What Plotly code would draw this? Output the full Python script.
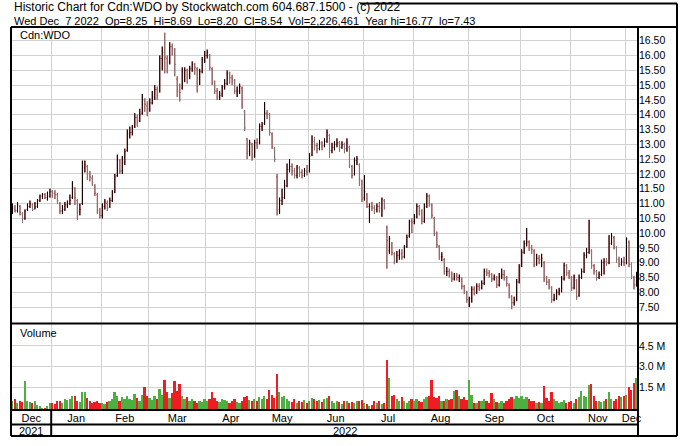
import pandas as pd
import plotly.graph_objects as go
from plotly.subplots import make_subplots

# ---------------- data ----------------
symbol = "Cdn:WDO"
holidays = ["2021-12-27", "2021-12-28", "2022-01-03", "2022-02-21", "2022-04-15",
            "2022-05-23", "2022-07-01", "2022-08-01", "2022-09-05", "2022-10-10"]
dates = [d for d in pd.bdate_range("2021-12-08", "2022-12-07")
         if d.strftime("%Y-%m-%d") not in holidays]

opens = [
    # Dec 2021
    10.95, 10.8, 10.75, 10.9, 10.65, 10.5, 10.8, 10.9, 10.95, 10.85, 10.9, 11.1, 11.25, 11.3, 11.2, 11.25,
    # Jan
    11.4, 11.35, 11.3, 11.0, 10.75, 10.8, 10.95, 11.0, 11.2, 11.5, 11.1, 10.7, 11.0, 12.2, 12.25, 12.0, 11.85, 11.6, 11.3, 10.7,
    # Feb
    10.6, 10.9, 11.0, 10.9, 11.1, 11.4, 11.95, 12.45, 12.1, 12.4, 12.8, 13.35, 13.4, 13.6, 13.9, 13.8, 14.05, 14.5, 14.3,
    # Mar
    14.2, 14.4, 14.6, 14.85, 14.8, 15.9, 16.1, 15.9, 15.8, 16.3, 16.2, 15.2, 14.8, 14.9, 15.4, 15.5, 15.35, 15.55, 15.7, 15.55, 15.2, 15.45, 15.85,
    # Apr
    16.0, 16.0, 15.55, 15.1, 14.8, 14.6, 14.7, 14.95, 15.05, 15.4, 15.25, 15.15, 14.8, 14.8, 14.9, 14.1, 13.2, 12.75, 13.0, 12.6,
    # May
    13.05, 13.05, 13.6, 13.7, 14.05, 14.0, 13.35, 12.85, 11.9, 10.8, 11.1, 11.2, 11.6, 12.15, 12.25, 12.1, 11.95, 12.2, 12.05, 11.95, 12.1,
    # Jun
    12.1, 12.65, 13.1, 12.95, 12.85, 13.05, 12.95, 13.1, 13.3, 12.8, 12.9, 13.0, 13.05, 12.9, 13.0, 12.85, 12.9, 12.25, 12.0, 12.45, 12.3, 11.75,
    # Jul
    11.2, 11.3, 10.9, 10.9, 10.85, 10.8, 10.9, 10.6, 11.1, 10.2, 9.4, 9.6, 9.3, 9.05, 9.25, 9.3, 9.2, 9.55, 9.9, 10.4,
    # Aug
    10.4, 10.55, 10.9, 10.75, 10.4, 10.9, 11.25, 10.95, 10.5, 10.0, 9.55, 9.2, 9.1, 8.7, 8.7, 8.6, 8.45, 8.55, 8.5, 8.45, 8.2, 8.0,
    # Sep
    7.6, 7.8, 8.1, 8.0, 8.2, 8.15, 8.3, 8.7, 8.65, 8.6, 8.45, 8.5, 8.25, 8.55, 8.6, 8.5, 8.25, 7.85, 7.65, 7.75, 8.35,
    # Oct
    8.9, 9.35, 9.65, 9.7, 9.5, 9.4, 8.95, 9.15, 9.1, 9.0, 8.45, 8.35, 8.15, 7.75, 7.8, 8.0, 8.05, 8.45, 8.9, 8.65,
    # Nov
    8.5, 8.15, 8.4, 7.9, 8.5, 8.7, 9.25, 9.35, 9.4, 8.9, 8.7, 8.5, 8.6, 9.0, 9.05, 9.0, 9.65, 9.85, 9.5, 9.1, 8.95, 9.05,
    # Dec
    9.0, 9.7, 8.95, 8.5, 8.25,
]
highs = [
    11.0, 10.95, 11.05, 10.95, 10.7, 10.8, 11.0, 11.1, 11.0, 11.05, 11.15, 11.3, 11.35, 11.35, 11.4, 11.5,
    11.45, 11.45, 11.35, 11.05, 10.95, 11.05, 11.1, 11.3, 11.75, 11.55, 11.15, 11.0, 12.45, 12.45, 12.3, 12.1, 11.95, 11.65, 11.35, 10.85,
    11.0, 11.15, 11.1, 11.2, 11.45, 12.0, 12.65, 12.5, 12.6, 12.85, 13.5, 13.6, 13.65, 14.05, 14.0, 14.2, 14.7, 14.55, 14.45,
    14.55, 14.8, 15.0, 14.95, 16.0, 16.3, 16.77, 16.0, 16.45, 16.4, 16.25, 15.3, 15.05, 15.6, 15.6, 15.55, 15.65, 15.8, 15.75, 15.6, 15.55, 15.95, 16.15,
    16.2, 16.05, 15.6, 15.15, 14.9, 14.8, 15.0, 15.2, 15.5, 15.45, 15.35, 15.2, 14.95, 15.05, 14.95, 14.15, 13.2, 13.15, 13.05, 13.15,
    13.2, 13.7, 13.75, 14.43, 14.15, 14.05, 13.4, 12.9, 12.0, 11.2, 11.5, 11.8, 12.35, 12.5, 12.35, 12.2, 12.3, 12.25, 12.15, 12.2, 12.3,
    12.7, 13.3, 13.25, 13.05, 13.15, 13.1, 13.2, 13.5, 13.35, 13.05, 13.1, 13.2, 13.1, 13.1, 13.05, 13.2, 12.95, 12.3, 12.55, 12.6, 12.35, 11.8,
    11.96, 11.35, 11.0, 11.05, 10.95, 11.0, 11.05, 11.2, 11.15, 10.25, 9.9, 9.7, 9.35, 9.4, 9.45, 9.45, 9.6, 9.95, 10.45, 10.5,
    10.65, 11.0, 10.95, 10.8, 11.0, 11.35, 11.3, 11.0, 10.55, 10.05, 9.6, 9.35, 9.15, 8.85, 8.8, 8.7, 8.65, 8.65, 8.6, 8.5, 8.25, 8.05,
    7.85, 8.2, 8.2, 8.3, 8.3, 8.4, 8.8, 8.8, 8.75, 8.65, 8.6, 8.55, 8.65, 8.8, 8.75, 8.55, 8.3, 7.9, 7.85, 8.45, 8.95,
    9.45, 9.75, 10.17, 9.75, 9.6, 9.45, 9.3, 9.25, 9.3, 9.05, 8.55, 8.45, 8.2, 7.95, 8.1, 8.15, 8.55, 9.0, 8.95, 8.75,
    8.55, 8.6, 8.45, 8.6, 8.8, 9.35, 9.5, 10.45, 9.45, 8.95, 8.75, 8.7, 9.1, 9.15, 9.15, 9.93, 10.0, 9.9, 9.55, 9.2, 9.15, 9.2,
    9.85, 9.75, 9.0, 8.55, 8.69,
]
lows = [
    10.65, 10.7, 10.7, 10.6, 10.35, 10.45, 10.75, 10.85, 10.75, 10.8, 10.85, 11.05, 11.15, 11.15, 11.1, 11.2,
    11.2, 11.15, 11.0, 10.65, 10.65, 10.75, 10.85, 10.95, 11.15, 10.95, 10.45, 10.6, 10.95, 12.05, 11.8, 11.75, 11.6, 11.25, 10.65, 10.5,
    10.5, 10.8, 10.75, 10.85, 11.05, 11.35, 11.9, 12.0, 12.0, 12.3, 12.75, 13.2, 13.3, 13.55, 13.6, 13.75, 14.0, 14.1, 13.95,
    14.1, 14.35, 14.5, 14.5, 14.75, 15.5, 15.4, 15.4, 15.7, 16.0, 15.3, 14.6, 14.45, 14.85, 15.1, 15.05, 15.2, 15.45, 15.35, 14.75, 15.0, 15.4, 15.75,
    15.9, 15.5, 15.0, 14.7, 14.5, 14.5, 14.6, 14.85, 15.0, 15.05, 15.0, 14.7, 14.6, 14.7, 14.2, 13.45, 12.5, 12.6, 12.45, 12.55,
    12.85, 13.0, 13.45, 13.65, 13.85, 13.3, 12.85, 12.4, 10.6, 10.65, 10.95, 11.15, 11.55, 12.05, 11.95, 11.85, 11.85, 11.9, 11.85, 11.9, 11.95,
    12.05, 12.6, 12.8, 12.7, 12.8, 12.8, 12.9, 13.05, 12.55, 12.7, 12.8, 12.9, 12.75, 12.85, 12.7, 12.75, 12.2, 11.85, 11.95, 12.3, 11.6, 11.05,
    11.1, 10.85, 10.35, 10.75, 10.65, 10.7, 10.7, 10.55, 10.8, 8.8, 9.3, 9.25, 8.95, 9.0, 9.1, 9.1, 9.15, 9.5, 9.85, 10.0,
    10.3, 10.5, 10.6, 10.3, 10.35, 10.85, 10.9, 10.5, 9.9, 9.5, 9.1, 9.05, 8.6, 8.55, 8.5, 8.35, 8.4, 8.4, 8.35, 8.1, 7.95, 7.65,
    7.5, 7.65, 7.9, 7.95, 8.05, 8.1, 8.25, 8.55, 8.5, 8.35, 8.4, 8.15, 8.2, 8.45, 8.4, 8.2, 7.8, 7.43, 7.55, 7.7, 8.3,
    8.85, 9.3, 9.55, 9.4, 9.3, 8.85, 8.9, 8.95, 8.85, 8.35, 8.25, 8.1, 7.65, 7.7, 7.75, 7.9, 8.0, 8.4, 8.55, 8.45,
    8.05, 8.1, 7.75, 7.85, 8.45, 8.65, 9.15, 9.3, 8.8, 8.6, 8.4, 8.45, 8.55, 8.6, 8.9, 8.95, 9.6, 9.45, 9.0, 8.85, 8.9, 8.9,
    8.95, 8.85, 8.45, 8.1, 8.20,
]
closes = [
    10.85, 10.75, 10.95, 10.7, 10.5, 10.75, 10.9, 11.0, 10.8, 10.9, 11.1, 11.25, 11.3, 11.2, 11.25, 11.4,
    11.35, 11.3, 11.1, 10.75, 10.8, 10.95, 11.0, 11.1, 11.55, 11.2, 10.75, 10.8, 12.2, 12.3, 12.0, 11.9, 11.7, 11.35, 10.75, 10.6,
    10.9, 11.05, 10.85, 11.1, 11.35, 11.9, 12.5, 12.1, 12.4, 12.75, 13.35, 13.4, 13.55, 13.9, 13.8, 14.0, 14.5, 14.35, 14.2,
    14.4, 14.6, 14.85, 14.65, 15.9, 16.1, 15.95, 15.75, 16.3, 16.25, 15.7, 14.8, 14.75, 15.45, 15.5, 15.3, 15.55, 15.7, 15.6, 15.25, 15.45, 15.85, 16.0,
    16.1, 15.6, 15.1, 14.8, 14.6, 14.65, 14.95, 15.05, 15.4, 15.25, 15.2, 14.8, 14.8, 14.95, 14.35, 13.55, 12.7, 13.05, 12.55, 13.05,
    13.0, 13.6, 13.65, 14.05, 14.0, 13.4, 12.9, 12.5, 10.75, 11.1, 11.2, 11.6, 12.15, 12.25, 12.1, 11.95, 12.2, 12.05, 11.95, 12.1, 12.05,
    12.6, 13.15, 12.95, 12.85, 13.05, 12.95, 13.1, 13.4, 12.8, 12.9, 13.0, 13.05, 12.9, 13.0, 12.85, 13.05, 12.3, 11.95, 12.45, 12.5, 11.8, 11.15,
    11.4, 10.9, 10.9, 10.85, 10.8, 10.9, 10.85, 11.15, 10.85, 9.75, 9.8, 9.35, 9.05, 9.25, 9.3, 9.2, 9.55, 9.85, 10.4, 10.35,
    10.55, 10.9, 10.75, 10.4, 10.9, 11.25, 10.95, 10.6, 10.0, 9.6, 9.2, 9.2, 8.7, 8.7, 8.65, 8.45, 8.55, 8.5, 8.5, 8.2, 8.05, 7.75,
    7.8, 8.1, 8.0, 8.2, 8.15, 8.3, 8.7, 8.65, 8.6, 8.45, 8.5, 8.25, 8.55, 8.6, 8.5, 8.3, 7.9, 7.65, 7.7, 8.35, 8.85,
    9.35, 9.65, 9.7, 9.5, 9.45, 8.95, 9.15, 9.1, 9.15, 8.45, 8.35, 8.2, 7.75, 7.8, 8.0, 8.05, 8.45, 8.9, 8.65, 8.55,
    8.15, 8.5, 7.85, 8.5, 8.7, 9.25, 9.35, 9.45, 8.9, 8.75, 8.5, 8.6, 9.0, 9.05, 9.0, 9.65, 9.9, 9.55, 9.1, 8.95, 9.05, 9.0,
    9.8, 8.95, 8.55, 8.25, 8.54,
]
volumes_m = [
    0.55, 0.7, 0.45, 0.6, 0.5, 2.0, 0.6, 0.5, 0.45, 0.55, 0.3, 0.25, 0.08, 0.1, 0.2, 0.45,
    0.45, 0.35, 0.55, 0.6, 0.4, 0.7, 0.65, 0.75, 0.9, 0.95, 0.6, 0.5, 1.25, 1.2, 0.8, 0.6, 0.45, 0.5, 0.55, 0.4,
    0.45, 0.35, 0.5, 0.6, 0.7, 1.25, 0.9, 0.6, 0.85, 0.7, 0.95, 0.75, 0.65, 1.1, 0.8, 0.6, 1.0, 1.6, 0.9,
    0.8, 0.65, 0.9, 0.7, 1.45, 1.0, 2.1, 1.2, 0.8, 1.15, 2.0, 1.3, 1.8, 0.95, 0.7, 0.85, 0.6, 0.75, 0.55, 0.45, 0.6, 0.5, 0.7,
    0.55, 0.7, 1.2, 0.8, 0.6, 0.5, 0.75, 0.65, 0.55, 0.45, 0.6, 0.75, 0.5, 0.4, 0.6, 0.85, 0.9, 0.65, 0.55, 0.7,
    0.6, 0.85, 0.7, 0.9, 0.75, 1.4, 1.0, 0.8, 2.5, 1.2, 0.85, 0.9, 0.75, 0.6, 0.5, 0.7, 0.45, 0.55, 0.5, 0.65, 0.4,
    0.55, 0.8, 0.7, 0.6, 0.65, 0.5, 0.75, 0.8, 0.9, 0.55, 0.45, 0.6, 0.5, 0.35, 0.55, 0.6, 0.45, 0.5, 0.4, 0.55, 0.6, 0.65,
    0.4, 0.35, 0.25, 0.3, 0.55, 0.45, 0.6, 0.35, 0.4, 3.5, 2.2, 0.9, 1.0, 0.7, 0.6, 0.85, 0.55, 0.45, 0.6, 0.7,
    0.55, 0.7, 0.6, 0.5, 0.75, 0.85, 0.9, 2.05, 0.85, 0.8, 0.95, 0.6, 0.55, 0.75, 0.65, 0.7, 1.3, 1.4, 0.9, 0.75, 0.85, 0.65,
    2.05, 1.0, 0.4, 0.45, 0.6, 0.55, 0.7, 0.6, 0.45, 1.15, 0.7, 0.5, 0.45, 0.55, 0.4, 0.6, 0.75, 0.85, 0.7, 0.9, 0.8,
    0.9, 0.75, 0.85, 0.7, 0.6, 0.55, 0.45, 0.5, 0.4, 1.65, 0.8, 0.6, 1.2, 0.7, 0.55, 0.4, 0.5, 0.65, 0.45, 0.5,
    0.55, 0.4, 0.7, 0.85, 1.3, 0.9, 0.85, 1.7, 1.8, 0.9, 0.6, 0.55, 0.5, 0.6, 0.7, 1.25, 0.7, 0.55, 0.75, 0.9, 0.85, 0.95,
    1.0, 1.6, 1.4, 1.9, 2.226461,
]
price_ticks = [7.5, 8.0, 8.5, 9.0, 9.5, 10.0, 10.5, 11.0, 11.5, 12.0, 12.5, 13.0, 13.5,
               14.0, 14.5, 15.0, 15.5, 16.0, 16.5]
volume_ticks_m = [1.5, 3.0, 4.5]

n = len(dates)
for arr in (opens, highs, lows, closes, volumes_m):
    assert len(arr) == n, (len(arr), n)

# ---------------- derived ----------------
idx = list(range(n))
volumes = [v * 1e6 for v in volumes_m]
up = [i == 0 or closes[i] >= closes[i - 1] for i in idx]

month_start = [i for i in idx if i == 0 or dates[i].month != dates[i - 1].month]
month_end = month_start[1:] + [n]
month_centers = [(s + e - 1) / 2 for s, e in zip(month_start, month_end)]
month_labels = [dates[s].strftime("%b") for s in month_start]
boundaries = [s - 0.5 for s in month_start[1:]]
year_start = [i for i in idx if i > 0 and dates[i].year != dates[i - 1].year][0]
xmin, xmax = -0.6, n - 1 + 0.6

# ---------------- geometry (pixels) ----------------
W, H = 695, 446
ML, MR, MT, MB = 11, 57, 27, 36
PW, PH = W - ML - MR, H - MT - MB


def xp(px):
    return (px - ML) / PW


def yp(py):
    return (H - MB - py) / PH


vol_top = yp(323.5)
FONT = "Liberation Sans, Arial, sans-serif"
GRID = "#d2d2d2"

fig = make_subplots(rows=2, cols=1, shared_xaxes=True, vertical_spacing=0,
                    row_heights=[1 - vol_top, vol_top])

# red open/close ticks
fig.add_trace(go.Ohlc(x=idx, open=opens, high=highs, low=lows, close=closes,
                      increasing_line_color="#cc1111", decreasing_line_color="#cc1111",
                      line_width=1, tickwidth=0.35, showlegend=False, hoverinfo="skip"),
              row=1, col=1)
# high-low bars: black on up days, grey on down days
for flag, col in ((True, "#000000"), (False, "#7d7d7d")):
    sel = [i for i in idx if up[i] == flag]
    fig.add_trace(go.Ohlc(x=sel, open=[opens[i] for i in sel], high=[highs[i] for i in sel],
                          low=[lows[i] for i in sel], close=[closes[i] for i in sel],
                          increasing_line_color=col, decreasing_line_color=col,
                          line_width=1, tickwidth=0, showlegend=False, hoverinfo="skip"),
                  row=1, col=1)

fig.add_trace(go.Bar(x=idx, y=volumes, width=0.7,
                     marker=dict(color=["#4caf3f" if u else "#ee1d23" for u in up], line_width=0),
                     showlegend=False, hoverinfo="skip"),
              row=2, col=1)

axis_common = dict(range=[xmin, xmax], showline=False, zeroline=False, showgrid=False,
                   ticks="", rangeslider=dict(visible=False),
                   minor=dict(tickmode="array", tickvals=boundaries, showgrid=True,
                              gridcolor=GRID, gridwidth=1, ticks=""))
fig.update_xaxes(**axis_common)
fig.update_xaxes(showticklabels=False, row=1, col=1)
fig.update_xaxes(tickmode="array", tickvals=month_centers, ticktext=month_labels,
                 tickfont=dict(family=FONT, size=11, color="#000"), row=2, col=1)

fig.update_yaxes(side="right", range=[6.946, 16.963], tickmode="array", tickvals=price_ticks,
                 ticktext=[f"{v:.2f}" for v in price_ticks], showgrid=True, gridcolor=GRID,
                 zeroline=False, showline=False, ticks="",
                 tickfont=dict(family=FONT, size=10.5, color="#000"), row=1, col=1)
fig.update_yaxes(side="right", range=[-0.107e6, 6.107e6], tickmode="array",
                 tickvals=[v * 1e6 for v in volume_ticks_m],
                 ticktext=[f"{v:.1f} M" for v in volume_ticks_m], showgrid=True, gridcolor=GRID,
                 zeroline=False, showline=False, ticks="",
                 tickfont=dict(family=FONT, size=10.5, color="#000"), row=2, col=1)

# frame lines
BL = dict(color="#000", width=2)
shapes = []


def pline(x0, y0, x1, y1, **kw):
    d = dict(type="line", xref="paper", yref="paper", x0=x0, y0=y0, x1=x1, y1=y1, line=BL)
    d.update(kw)
    shapes.append(d)


right_out = xp(677)
pline(0, 1, right_out, 1)                    # top of price panel
pline(0, vol_top, right_out, vol_top)         # price / volume separator
pline(0, 0, 1, 0)                             # bottom of volume panel
pline(0, yp(424.5), 1, yp(424.5))             # under month row
pline(0, yp(436), right_out, yp(436))         # bottom frame
pline(0, 1, 0, yp(436))                       # left border
pline(1, 1, 1, yp(436))                       # plot right border
pline(right_out, yp(3.5), right_out, yp(436))  # outer right frame
pline(xp(360), yp(3.5), right_out, yp(3.5))   # outer top frame
shapes.append(dict(type="line", xref="x2", yref="paper", x0=year_start - 0.5, x1=year_start - 0.5,
                   y0=0, y1=yp(436), line=BL))

yr_first = dates[0].year
line2 = (f"{dates[-1].strftime('%a %b')}\u00a0{dates[-1].day:2d} {dates[-1].year}\u00a0 "
         f"Op={opens[-1]:.2f}\u00a0 Hi={highs[-1]:.2f}\u00a0 Lo={lows[-1]:.2f}\u00a0 "
         f"Cl={closes[-1]:.2f}\u00a0 Vol={round(volumes[-1]):,}\u00a0 "
         f"Year hi={max(highs):.2f}\u00a0 lo={min(lows):.2f}")
line2 = line2.replace(" \u00a0", "\u00a0\u00a0").replace("\u00a0 ", "\u00a0\u00a0")
annotations = [
    dict(text=f"Historic Chart for {symbol} by Stockwatch.com 604.687.1500 - (c) {dates[-1].year}",
         x=xp(12), y=yp(7), size=12),
    dict(text=line2, x=xp(12), y=yp(21.5), size=11),
    dict(text=symbol, x=xp(18), y=yp(34.5), size=11),
    dict(text="Volume", x=xp(18), y=yp(333), size=11),
]
for a in annotations:
    sz = a.pop("size")
    a.update(xref="paper", yref="paper", showarrow=False, xanchor="left", yanchor="middle",
             font=dict(family=FONT, size=sz, color="#000"))
annotations += [
    dict(text=str(yr_first), x=month_centers[0], y=yp(431), xref="x2", yref="paper",
         showarrow=False, xanchor="center", yanchor="middle",
         font=dict(family=FONT, size=11, color="#000")),
    dict(text=str(dates[-1].year), x=(year_start - 0.5 + xmax) / 2, y=yp(431), xref="x2",
         yref="paper", showarrow=False, xanchor="center", yanchor="middle",
         font=dict(family=FONT, size=11, color="#000")),
]

fig.update_layout(width=W, height=H, margin=dict(l=ML, r=MR, t=MT, b=MB, pad=0),
                  paper_bgcolor="#fff", plot_bgcolor="#fff", showlegend=False,
                  bargap=0, shapes=shapes, annotations=annotations,
                  font=dict(family=FONT, size=12, color="#000"))

fig.write_html("out.html", config={"displayModeBar": False},
               post_script="document.body.style.margin='0px';document.body.style.padding='0px';")
